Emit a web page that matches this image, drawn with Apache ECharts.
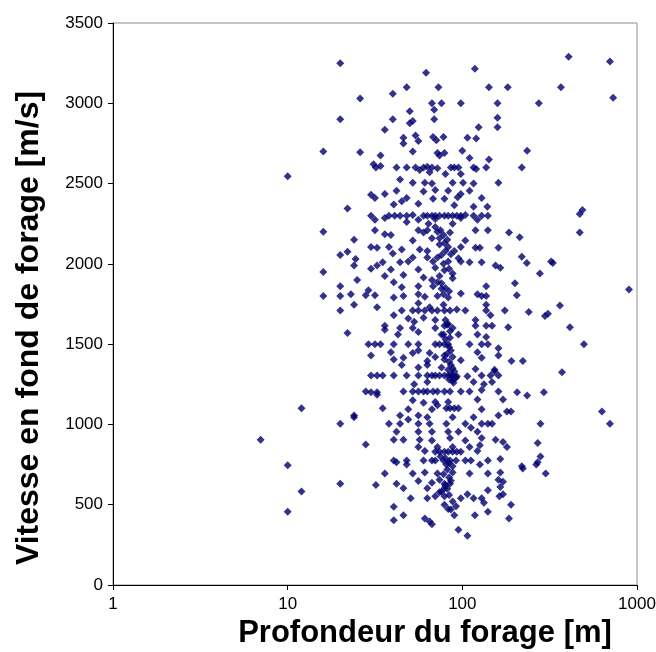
<!DOCTYPE html>
<html>
<head>
<meta charset="utf-8">
<script src="https://cdn.jsdelivr.net/npm/echarts@6/dist/echarts.min.js"></script>
<style>
  html, body { margin: 0; padding: 0; background: #fff; }
  #chart { width: 656px; height: 652px; }
</style>
</head>
<body>
<div id="chart"></div>
<script>
// [profondeur (m), vitesse (m/s)]
var pointsHaut = [
  [406,3290],[20,3250],[700,3260],[118,3215],[62,3190],
  [48,3100],[73,3100],[142,3100],[182,3100],[367,3100],
  [40,3060],[730,3035],[26,3030],
  [67,3000],[76,3000],[98,3000],[159,3000],[274,3000],
  [69,2960],[50,2950],[159,2910],[50,2875],[52,2890],[69,2900],[20,2900],[40,2900],
  [159,2850],[124,2850],[36,2835],
  [46,2785],[54,2800],[68,2790],[78,2790],[71,2770],[56,2765],[107,2785],[120,2780],[46,2750],
  [52,2700],[74,2675],[79,2690],[100,2705],[110,2660],[142,2650],[16,2700],[26,2695],[235,2705],[34,2675],[72,2690],
  [32,2600],[34,2610],[42,2600],[48,2600],[54,2600],[60,2600],[63,2605],[67,2600],[72,2595],[86,2600],
  [90,2600],[95,2600],[116,2600],[137,2600],[219,2600],[31,2620],
  [10,2545],[57,2585],[65,2570],[98,2560],[120,2590],[80,2560],
  [44,2525],[52,2505],[61,2505],[67,2500],[88,2505],[101,2505],[116,2500],[161,2505]
];
var pointsMoyenHaut = [
  [60,2450],[70,2460],[83,2455],[98,2435],[110,2455],[42,2455],
  [30,2430],[31.6,2410],[36,2435],[48,2410],[79,2405],[129,2410],[68,2405],[94,2415],
  [45,2390],[40.5,2370],[56,2375],[90,2365],[116,2355],[139,2355],
  [30,2300],[38,2300],[41,2300],[44,2300],[48,2300],[52,2305],[60,2300],[63,2300],[67,2300],[70,2300],
  [74,2300],[79,2300],[83,2300],[88,2300],[93,2300],[98,2300],[104,2305],[116,2300],[129,2300],[140,2300],
  [470,2310],[487,2335],[22,2345],[98,2285],
  [31.6,2275],[36,2285],[48,2260],[56,2275],[70,2280],[122,2275],[88,2250],
  [64,2250],[70,2230],[75,2210],[78,2180],[82,2150],[74,2120],[80,2080],[86,2060],[72,2040],
  [16,2200],[31.6,2210],[36,2185],[39,2180],[56,2210],[60,2195],[63,2210],[72,2200],[85,2195],
  [119,2210],[140,2210],[185,2195],[470,2195],[74,2160],
  [24,2150],[213,2165],[52,2145],[67,2160],[79,2130],[104,2145],
  [30,2105],[32.5,2100],[38,2105],[45,2090],[57,2090],[63,2080],[83,2105],[98,2105],[119,2100],[126,2100],[161,2100],
  [22,2075],[40,2065],[52,2040],[63,2040],[76,2055],[219,2045],[90,2080],[20,2055],[24.5,2030],[95,2035],
  [24,1990],[32.5,1990],[35,2010],[44,2010],[49,2015],[68,2015],[83,2015],[98,2015],[110,2010],
  [129,2010],[234,2005],[330,2005],[322,2015],[78,2000]
];
var pointsMoyen = [
  [16,1950],[30,1970],[39,1965],[56,1965],[70,1975],[155,1990],[165,1975],[79,1960],[278,1940],
  [84,1970],[88,1940],[76,1880],[80,1850],[84,1830],[78,1810],
  [25,1900],[36,1925],[46,1930],[60,1915],[67,1900],[74,1925],[88,1910],[40.5,1885],
  [20,1860],[56,1860],[68,1860],[72,1885],[137,1860],[200,1880],[900,1840],[45,1855],[76,1845],
  [16,1800],[20,1800],[23,1810],[28,1805],[29,1835],[31.6,1805],[40.5,1790],[46,1800],[56,1810],
  [61,1795],[72,1800],[83,1790],[122,1810],[129,1800],[137,1800],[205,1805],[98,1815],
  [20,1710],[24,1745],[56,1755],[65,1730],[78,1745],[137,1745],[362,1740],[93,1715],
  [32.5,1730],[45,1710],[52,1710],[56,1710],[61,1710],[67,1710],[72,1710],[79,1710],[85,1710],
  [104,1710],[137,1710],[175,1710],[240,1700],[297,1675],[309,1690],
  [40.5,1680],[49,1660],[53,1640],[60,1665],[70,1650],[119,1650],[145,1680],
  [80,1650],[82,1620],[85,1580],[78,1560],[80,1530],
  [36,1615],[44,1600],[52,1600],[70,1600],[79,1615],[88,1600],[119,1615],[137,1615],[148,1615],
  [183,1605],[413,1605],[36,1590],[83,1625],
  [22,1570],[42.8,1560],[56,1575],[76,1560],[95,1560],[122,1560],[137,1545],[85,1540]
];
var pointsMoyenBas = [
  [29,1500],[31.6,1500],[34,1500],[40.5,1500],[49,1500],[56,1500],[70,1500],[74,1500],[79,1500],
  [83,1500],[110,1500],[129,1500],[140,1500],[497,1500],[161,1475],
  [84,1480],[86,1460],[82,1440],[88,1420],[84,1390],[86,1370],[88,1350],[90,1330],[86,1310],
  [92,1290],[84,1280],[89,1260],
  [30,1430],[39,1450],[52,1445],[65,1445],[79,1430],[122,1450],[161,1430],[56,1460],
  [40.5,1405],[46,1415],[63,1395],[79,1405],[98,1400],[129,1415],[191,1395],[222,1395],[70,1420],
  [56,1355],[63,1370],[76,1355],[83,1340],[119,1345],[153,1340],[372,1325],[45,1370],
  [30,1305],[32.5,1305],[35,1305],[40.5,1305],[48,1305],[56,1305],[63,1305],[67,1305],[70,1305],
  [74,1305],[79,1305],[83,1305],[88,1305],[93,1300],[107,1300],[129,1305],[145,1305],[161,1305],[153,1330],
  [53,1250],[63,1265],[88,1275],[116,1265],[133,1250],[148,1265],
  [28,1205],[30,1200],[32.5,1200],[46,1205],[52,1205],[56,1205],[60,1205],[63,1205],[68,1205],
  [72,1205],[79,1205],[85,1205],[98,1205],[110,1205],[129,1215],[161,1205],[206,1200],[293,1200],[235,1180],
  [32.5,1185],[52,1150],[60,1135],[70,1140],[83,1140],[122,1155],[171,1155],
  [12,1100],[35,1100],[49,1095],[67,1095],[81,1100],[85,1100],[90,1100],[95,1100],[129,1095],[72,1120],
  [24,1055],[24,1045],[44,1055],[56,1055],[63,1045],[88,1045],[116,1045],[161,1055],
  [180,1080],[190,1080],[630,1080],[49,1030]
];
var pointsBas = [
  [20,1005],[38,1005],[44,1005],[56,1005],[65,1005],[81,1005],[104,1005],[129,1005],[140,1005],
  [148,1005],[280,1005],[700,1005],[112,980],
  [42,955],[56,955],[67,955],[83,955],[95,955],[122,955],
  [7,905],[40.5,905],[46,905],[57,905],[67,900],[85,915],[104,900],[129,915],[155,905],[171,890],
  [28,875],[56,860],[72,860],[88,860],[110,860],[126,870],[180,860],[270,885],[61,835],
  [70,830],[74,830],[79,830],[83,830],[88,830],[93,830],[98,830],[122,835],
  [75,800],[80,790],[84,760],[88,740],[82,720],[78,690],[84,670],[86,650],[80,620],[82,600],
  [76,580],[84,560],[88,520],[92,490],[86,470],
  [40.5,775],[48,775],[60,775],[67,775],[70,775],[78,775],[85,775],[92,775],[104,775],[112,775],
  [140,775],[165,785],[280,800],[270,765],[42,765],
  [10,745],[48,750],[81,750],[126,750],[265,750],
  [36,695],[52,695],[61,700],[72,695],[88,700],[110,695],[140,695],[222,725],[219,740],[300,695],[165,700],
  [56,648],[67,637],[79,630],[85,630],[161,655],[171,643],[74,655],
  [20,630],[32,622],[42,630],[46,603],[63,603],[79,603],[165,611],
  [12,583],[140,590],[74,578],[107,565],[171,565],
  [50.6,540],[63,540],[79,552],[98,540],[116,540],[129,540],[163,552],[70,552],
  [40.5,487],[79,500],[133,513],[190,500],[83,474],
  [10,456],[46,435],[90,435],[118,435],[140,456],
  [40.5,404],[61,414],[65,396],[185,414],[67,378],
  [95,344],[107,306]
];

var xTitle = 'Profondeur du forage [m]';
var yTitle = 'Vitesse en fond de forage [m/s]';

var allPoints = pointsHaut.concat(pointsMoyenHaut, pointsMoyen, pointsMoyenBas, pointsBas);

var chart = echarts.init(document.getElementById('chart'));
var labelFont = { color: '#000', fontFamily: 'Liberation Sans', fontSize: 17 };
var titleFont = { color: '#000', fontFamily: 'Liberation Sans', fontWeight: 'bold' };

chart.setOption({
  animation: false,
  backgroundColor: '#fff',
  grid: {
    left: 113, right: 19, top: 23, bottom: 67,
    outerBoundsMode: 'none', containLabel: false,
    show: true, borderColor: '#8c8c8c', borderWidth: 1, backgroundColor: '#fff'
  },
  xAxis: {
    type: 'log', logBase: 10, min: 1, max: 1000,
    name: xTitle, nameLocation: 'middle', nameGap: 33,
    nameTextStyle: Object.assign({ fontSize: 31, padding: [0, 0, 0, 100] }, titleFont),
    axisLine: { lineStyle: { color: '#000', width: 1 } },
    axisTick: { length: 5, lineStyle: { color: '#000' } },
    axisLabel: Object.assign({ margin: 11, formatter: function (v) { return String(Math.round(v)); } }, labelFont),
    splitLine: { show: false }
  },
  yAxis: {
    type: 'value', min: 0, max: 3500, interval: 500,
    name: yTitle, nameLocation: 'middle', nameGap: 68,
    nameTextStyle: Object.assign({ fontSize: 32, padding: [0, 48, 0, 0] }, titleFont),
    axisLine: { show: true, lineStyle: { color: '#000', width: 1 } },
    axisTick: { show: true, length: 5, lineStyle: { color: '#000' } },
    axisLabel: Object.assign({ margin: 10, formatter: function (v) { return String(v); } }, labelFont),
    splitLine: { show: false }
  },
  series: [{
    type: 'scatter',
    data: allPoints,
    symbol: 'diamond',
    symbolSize: 8,
    itemStyle: { color: '#000070' }
  }]
});
</script>
</body>
</html>
